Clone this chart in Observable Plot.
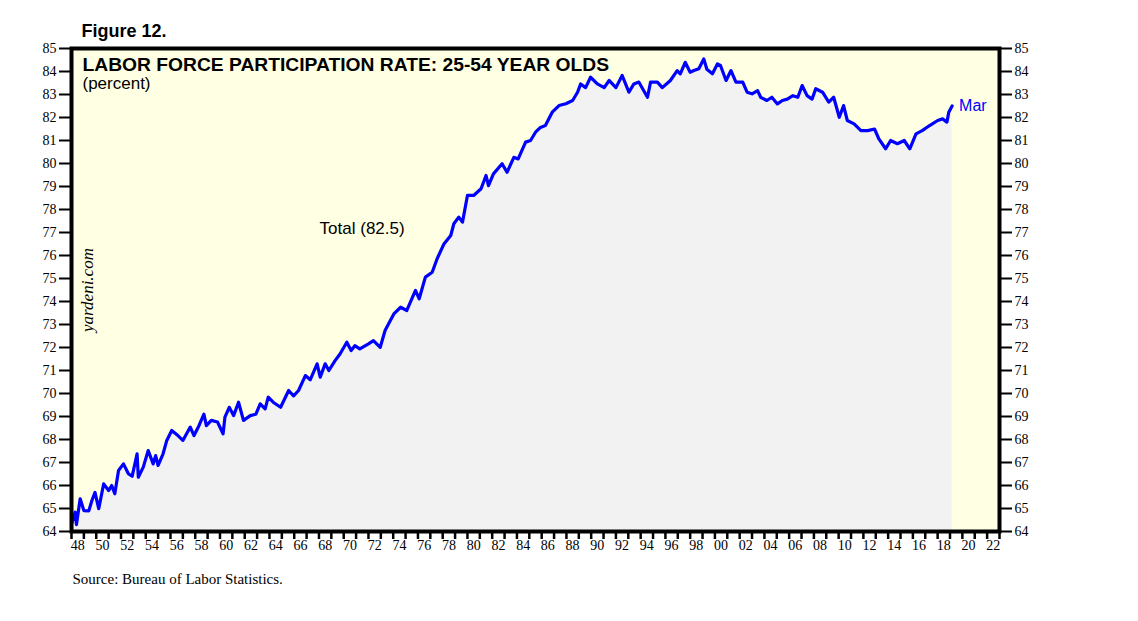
<!DOCTYPE html>
<html>
<head>
<meta charset="utf-8">
<script src="https://cdn.jsdelivr.net/npm/d3@7"></script>
<script src="https://cdn.jsdelivr.net/npm/@observablehq/plot@0.6"></script>
<style>
  html, body { margin: 0; padding: 0; background: #ffffff; }
  #chart { width: 1138px; height: 621px; }
</style>
</head>
<body>
<div id="chart"></div>
<script>
// Readings from the picture: fractional year, participation rate (%)
const years = [
  1948.0, 1948.3, 1948.4, 1948.7, 1949.0, 1949.4, 1949.65, 1949.9, 1950.2, 1950.6,
  1951.0, 1951.25, 1951.5, 1951.8, 1952.2, 1952.6, 1952.9, 1953.3, 1953.4, 1953.8,
  1954.2, 1954.6, 1954.8, 1955.0, 1955.4, 1955.7, 1956.1, 1956.6, 1957.0, 1957.6,
  1957.9, 1958.3, 1958.7, 1958.9, 1959.3, 1959.8, 1960.25, 1960.4, 1960.75, 1961.1,
  1961.5, 1961.9, 1962.45, 1962.9, 1963.25, 1963.65, 1963.9, 1964.3, 1964.9, 1965.55,
  1965.95, 1966.35, 1966.9, 1967.3, 1967.85, 1968.1, 1968.5, 1968.8, 1969.3, 1969.7,
  1970.25, 1970.6, 1970.9, 1971.3, 1972.0, 1972.4, 1972.95, 1973.35, 1974.05, 1974.6,
  1975.1, 1975.8, 1976.1, 1976.6, 1977.15, 1977.55, 1978.1, 1978.65, 1978.9, 1979.3,
  1979.6, 1980.0, 1980.5, 1981.1, 1981.5, 1981.7, 1982.1, 1982.8, 1983.2, 1983.75,
  1984.1, 1984.7, 1985.1, 1985.5, 1985.9, 1986.3, 1986.85, 1987.4, 1987.95, 1988.5,
  1988.9, 1989.15, 1989.55, 1989.95, 1990.5, 1991.05, 1991.45, 1992.0, 1992.5, 1993.05,
  1993.45, 1993.85, 1994.55, 1994.8, 1995.35, 1995.75, 1996.4, 1996.95, 1997.2, 1997.6,
  1998.0, 1998.3, 1998.7, 1999.1, 1999.35, 1999.8, 2000.2, 2000.45, 2000.9, 2001.3,
  2001.7, 2002.25, 2002.6, 2003.0, 2003.45, 2003.7, 2004.2, 2004.6, 2005.05, 2005.45,
  2005.85, 2006.3, 2006.7, 2007.05, 2007.45, 2007.85, 2008.15, 2008.7, 2009.2, 2009.6,
  2010.05, 2010.4, 2010.7, 2011.25, 2011.8, 2012.35, 2012.9, 2013.25, 2013.8, 2014.2,
  2014.75, 2015.3, 2015.75, 2016.25, 2016.75, 2017.35, 2018.0, 2018.4, 2018.75, 2018.9,
  2019.17
];
const rates = [
  64.33, 64.84, 64.3, 65.42, 64.91, 64.9, 65.35, 65.7, 64.99, 66.07,
  65.78, 66.0, 65.64, 66.65, 66.94, 66.51, 66.4, 67.38, 66.36, 66.8,
  67.52, 66.94, 67.3, 66.87, 67.38, 67.96, 68.39, 68.17, 67.96, 68.54,
  68.17, 68.6, 69.1, 68.6, 68.83, 68.76, 68.25, 68.97, 69.4, 69.04,
  69.62, 68.83, 69.04, 69.1, 69.55, 69.33, 69.84, 69.62, 69.4, 70.13,
  69.9, 70.13, 70.78, 70.6, 71.29, 70.71, 71.29, 71.0, 71.43, 71.72,
  72.23, 71.87, 72.08, 71.94, 72.16, 72.3, 72.01, 72.75, 73.46, 73.75,
  73.61, 74.48, 74.12, 75.06, 75.27, 75.86, 76.5, 76.87, 77.38, 77.67,
  77.45, 78.61, 78.61, 78.9, 79.48, 79.04, 79.55, 79.99, 79.62, 80.27,
  80.2, 80.93, 81.0, 81.36, 81.57, 81.65, 82.23, 82.52, 82.6, 82.74,
  83.1, 83.46, 83.3, 83.75, 83.46, 83.3, 83.61, 83.3, 83.83, 83.1,
  83.46, 83.54, 82.88, 83.54, 83.54, 83.3, 83.61, 84.04, 83.9, 84.4,
  83.97, 84.04, 84.12, 84.55, 84.1, 83.9, 84.33, 84.26, 83.61, 84.04,
  83.54, 83.54, 83.1, 83.03, 83.17, 82.88, 82.74, 82.88, 82.59, 82.74,
  82.8, 82.95, 82.88, 83.39, 82.95, 82.8, 83.25, 83.1, 82.67, 82.88,
  82.01, 82.52, 81.87, 81.72, 81.43, 81.43, 81.5, 81.07, 80.64, 81.0,
  80.86, 81.0, 80.64, 81.29, 81.43, 81.65, 81.87, 81.94, 81.8, 82.23,
  82.5
];
const yTicks = d3.range(64, 86);            // 64 ... 85
const yearTicks = d3.range(1948, 2024);     // one tick per year
const labelYears = d3.range(1948, 2023, 2); // labelled years 48 ... 22
const titleText = "LABOR FORCE PARTICIPATION RATE: 25-54 YEAR OLDS";
const unitText = "(percent)";
const figureText = "Figure 12.";
const seriesLabel = "Total (82.5)";
const lastLabel = "Mar";
const sourceText = "Source: Bureau of Labor Statistics.";
const watermark = "yardeni.com";

const data = years.map((t, i) => ({t, v: rates[i]}));
const last = data[data.length - 1];
const SANS = "Liberation Sans, Arial, sans-serif";
const SERIF = "Liberation Serif, Times New Roman, serif";

const chart = Plot.plot({
  width: 1138,
  height: 621,
  marginLeft: 71,
  marginRight: 139,
  marginTop: 48,
  marginBottom: 90,
  style: {fontFamily: SERIF, fontSize: "14px", background: "#ffffff", overflow: "visible"},
  x: {type: "linear", domain: [1948, 2023], label: null},
  y: {domain: [64, 85], label: null},
  marks: [
    Plot.frame({fill: "#FFFFE4", stroke: "none"}),
    Plot.areaY(data, {x: "t", y1: 64, y2: "v", fill: "#F2F2F2"}),
    Plot.lineY(data, {x: "t", y: "v", stroke: "#0000FF", strokeWidth: 3.2, strokeLinejoin: "round"}),
    Plot.frame({stroke: "#000000", strokeWidth: 4}),
    // axes
    Plot.axisY(yTicks, {anchor: "left", label: null, tickSize: 12, tickPadding: 3, strokeWidth: 2, tickFormat: d => String(d), fontSize: 14, fontFamily: SERIF, fill: "#000"}),
    Plot.axisY(yTicks, {anchor: "right", label: null, tickSize: 12, tickPadding: 3, strokeWidth: 2, tickFormat: d => String(d), fontSize: 14, fontFamily: SERIF, fill: "#000"}),
    Plot.axisX(yearTicks, {anchor: "bottom", label: null, tickSize: 8, strokeWidth: 2.5, tickFormat: () => ""}),
    Plot.axisX(labelYears.map(y => y + 0.5), {anchor: "bottom", label: null, tickSize: 0, tickPadding: 9, fontSize: 14, fontFamily: SERIF, fill: "#000",
      tickFormat: d => String(Math.floor(d) % 100).padStart(2, "0")}),
    // texts
    Plot.text([figureText], {frameAnchor: "top-left", dx: 10, dy: -12, textAnchor: "start", lineAnchor: "bottom",
      fontFamily: SANS, fontWeight: "bold", fontSize: 18, fill: "#000"}),
    Plot.text([titleText], {frameAnchor: "top-left", dx: 11, dy: 22, textAnchor: "start", lineAnchor: "bottom",
      fontFamily: SANS, fontWeight: "bold", fontSize: 19.25, fill: "#000"}),
    Plot.text([unitText], {frameAnchor: "top-left", dx: 11, dy: 40.5, textAnchor: "start", lineAnchor: "bottom",
      fontFamily: SANS, fontSize: 17, fill: "#000"}),
    Plot.text([seriesLabel], {x: [1968.05], y: [77.17], textAnchor: "start", lineAnchor: "middle",
      fontFamily: SANS, fontSize: 17, fill: "#000"}),
    Plot.text([last], {x: "t", y: "v", text: () => lastLabel, dx: 7, dy: 0, textAnchor: "start", lineAnchor: "middle",
      fontFamily: SANS, fontSize: 16, fill: "#0000FF"}),
    Plot.text([watermark], {frameAnchor: "left", dx: 16, rotate: -90, textAnchor: "middle", lineAnchor: "middle",
      fontFamily: SERIF, fontStyle: "italic", fontSize: 17, fill: "#000"}),
    Plot.text([sourceText], {frameAnchor: "bottom-left", dx: 1, dy: 52.5, textAnchor: "start", lineAnchor: "bottom",
      fontFamily: SERIF, fontSize: 15, fill: "#000"})
  ]
});
document.getElementById("chart").appendChild(chart);
</script>
</body>
</html>
